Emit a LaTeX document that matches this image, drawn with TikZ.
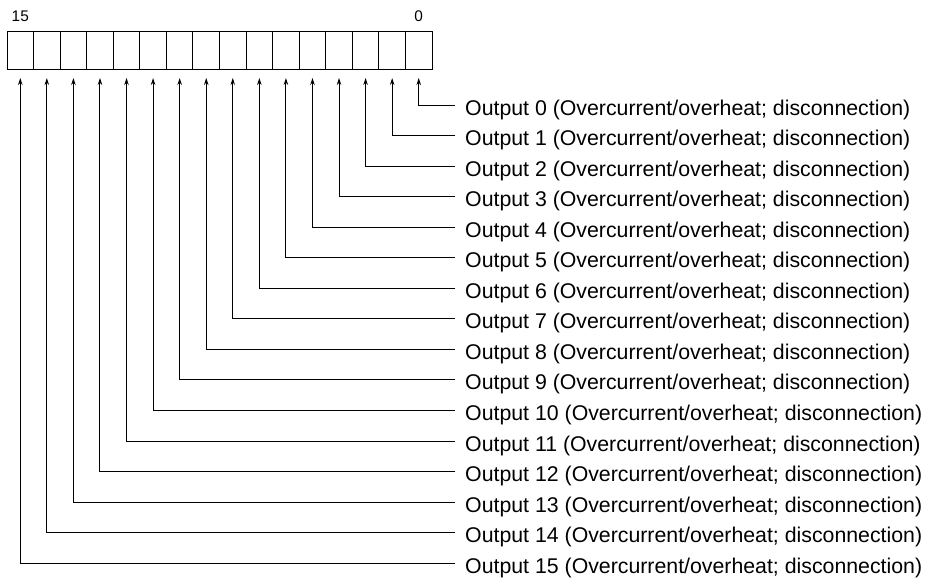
\documentclass[tikz,border=0pt]{standalone}
\usepackage{fontspec}
\setmainfont{Liberation Sans}
\usetikzlibrary{arrows.meta}
\begin{document}
\begin{tikzpicture}[x=1pt,y=1pt,
  cell/.style={draw,line width=1pt,minimum width=26.5625pt,minimum height=37pt,inner sep=0pt,outer sep=0pt},
  wire/.style={line width=1pt,-{Stealth[length=7pt,width=4.5pt]}},
  lbl/.style={anchor=base west,inner sep=0pt,font=\fontsize{21.3}{25}\selectfont},
  bitnum/.style={anchor=base,inner sep=0pt,font=\fontsize{15.4}{18}\selectfont}]
\useasboundingbox (0,0) rectangle (925,-578);
\foreach \k in {0,...,15}{
  \node[cell] (c\k) at ({7+(15-\k+0.5)*26.5625},-50.5) {};
}
\node[bitnum,yshift=10pt] (n15) at (c15.north) {15};
\node[bitnum,yshift=10pt] (n0) at (c0.north) {0};
\foreach \k in {0,...,15}{
  \pgfmathsetmacro\yy{-105-\k*30.55}
  \coordinate (e\k) at (455,\yy);
  \node[lbl] (o\k) at (465,\yy-10) {Output \k\ (Overcurrent/overheat; disconnection)};
  \draw[wire] (e\k) -| ([yshift=-9pt]c\k.south);
}
\end{tikzpicture}
\end{document}
